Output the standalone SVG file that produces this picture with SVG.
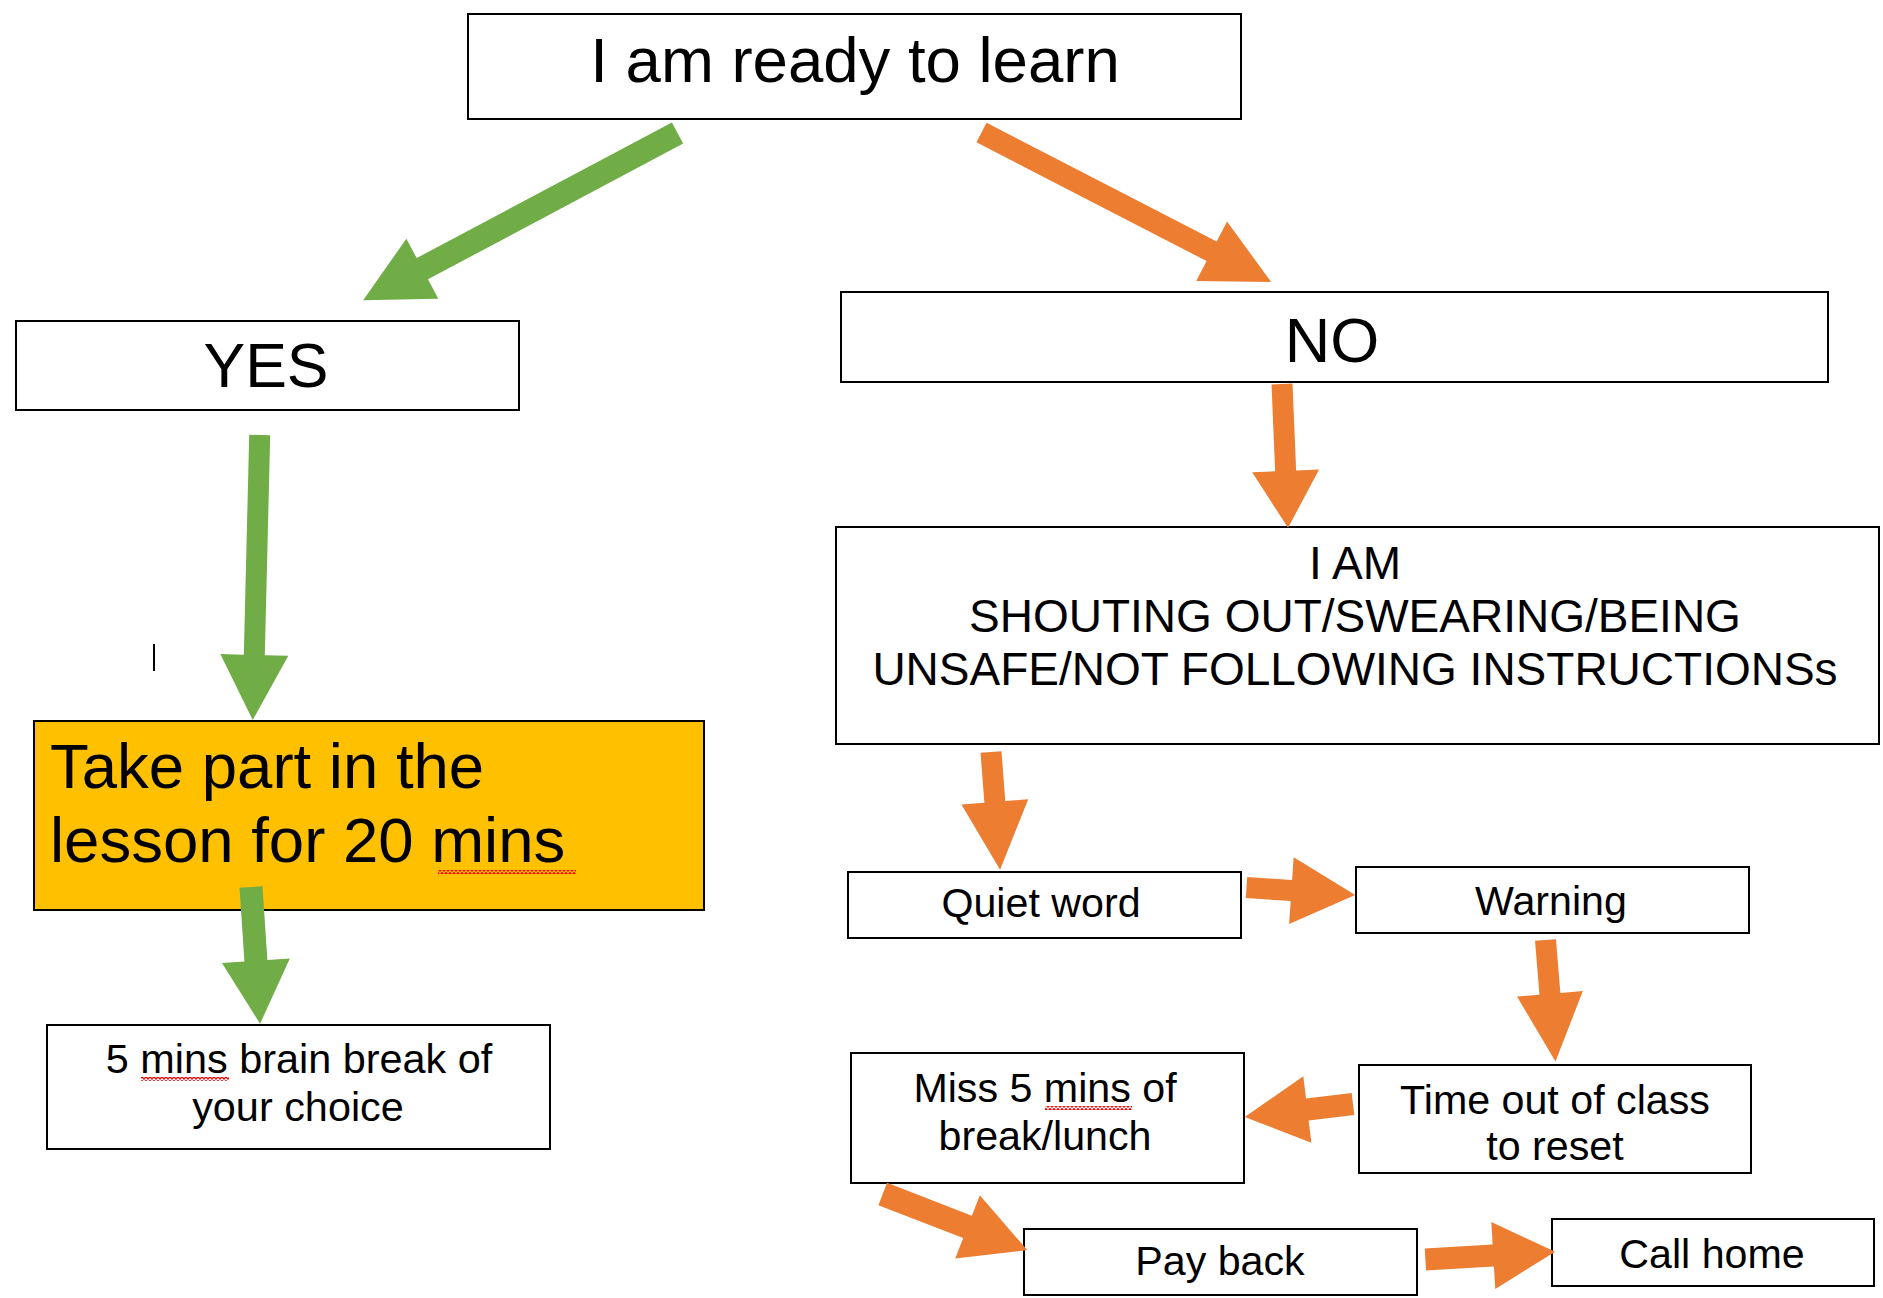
<svg xmlns="http://www.w3.org/2000/svg" width="1883" height="1298" viewBox="0 0 1883 1298">
<style>
.box{fill:#fff;stroke:#000;stroke-width:2}
.gold{fill:#FFC000;stroke:#000;stroke-width:2}
.t{font-family:"Liberation Sans",Arial,sans-serif;fill:#000}
.c{text-anchor:middle}
.g{fill:#70AD47}
.o{fill:#ED7D31}
</style>
<defs>
<pattern id="sq" width="4" height="4" patternUnits="userSpaceOnUse">
<path d="M0,3.5 L2,0.5 L4,3.5" fill="none" stroke="#FF0000" stroke-width="1.3"/>
</pattern>
</defs>
<rect width="1883" height="1298" fill="#fff"/>

<g id="ready">
<rect class="box" x="468" y="14" width="773" height="105"/>
<text class="t c" x="855" y="82" font-size="63.5">I am ready to learn</text>
</g>

<g id="yes">
<rect class="box" x="16" y="321" width="503" height="89"/>
<text class="t c" x="266" y="387" font-size="62.5">YES</text>
</g>

<g id="no">
<rect class="box" x="841" y="292" width="987" height="90"/>
<text class="t c" x="1332" y="362" font-size="63">NO</text>
</g>

<g id="behaviour">
<rect class="box" x="836" y="527" width="1043" height="217"/>
<text class="t c" x="1355" y="579" font-size="46">I AM</text>
<text class="t c" x="1355" y="632" font-size="46">SHOUTING OUT/SWEARING/BEING</text>
<text class="t c" x="1355" y="685" font-size="46">UNSAFE/NOT FOLLOWING INSTRUCTIONSs</text>
</g>

<g id="takepart">
<rect class="gold" x="34" y="721" width="670" height="189"/>
<text class="t" x="50" y="788" font-size="63.5">Take part in the</text>
<text class="t" x="50" y="862" font-size="63.5">lesson for 20 mins</text>
<rect x="438" y="870" width="138" height="4" fill="url(#sq)"/>
</g>

<g id="brainbreak">
<rect class="box" x="47" y="1025" width="503" height="124"/>
<text class="t c" x="299" y="1073" font-size="41.4">5 mins brain break of</text>
<text class="t c" x="298" y="1121" font-size="41.4">your choice</text>
<rect x="141" y="1077" width="88" height="4" fill="url(#sq)"/>
</g>

<g id="quiet">
<rect class="box" x="848" y="872" width="393" height="66"/>
<text class="t c" x="1041" y="917" font-size="41.2">Quiet word</text>
</g>

<g id="warning">
<rect class="box" x="1356" y="867" width="393" height="66"/>
<text class="t c" x="1551" y="915" font-size="41.2">Warning</text>
</g>

<g id="timeout">
<rect class="box" x="1359" y="1065" width="392" height="108"/>
<text class="t c" x="1555" y="1114" font-size="41.2">Time out of class</text>
<text class="t c" x="1555" y="1160" font-size="41.2">to reset</text>
</g>

<g id="miss">
<rect class="box" x="851" y="1053" width="393" height="130"/>
<text class="t c" x="1045" y="1102" font-size="41.2">Miss 5 mins of</text>
<text class="t c" x="1045" y="1150" font-size="41.2">break/lunch</text>
<rect x="1045" y="1106" width="87" height="4" fill="url(#sq)"/>
</g>

<g id="payback">
<rect class="box" x="1024" y="1229" width="393" height="66"/>
<text class="t c" x="1220" y="1275" font-size="41.2">Pay back</text>
</g>

<g id="callhome">
<rect class="box" x="1552" y="1219" width="322" height="67"/>
<text class="t c" x="1712" y="1268" font-size="41.2">Call home</text>
</g>

<rect x="153" y="644" width="2" height="27" fill="#000"/>

<g id="connectors">
<polygon class="g" transform="translate(677.5,133) rotate(152)" points="0,-12 289,-12 289,-34 356,0 289,34 289,12 0,12"/>
<polygon class="o" transform="translate(981.5,132.5) rotate(27.3)" points="0,-11 259,-11 259,-33.5 326,0 259,33.5 259,11 0,11"/>
<polygon class="g" transform="translate(259.7,435) rotate(91.4)" points="0,-10.5 220,-10.5 220,-34 285,0 220,34 220,10.5 0,10.5"/>
<polygon class="g" transform="translate(251,887) rotate(86.2)" points="0,-11.5 74,-11.5 74,-34 137,0 74,34 74,11.5 0,11.5"/>
<polygon class="o" transform="translate(1282,384) rotate(87.6)" points="0,-10.5 87,-10.5 87,-33.5 144,0 87,33.5 87,10.5 0,10.5"/>
<polygon class="o" transform="translate(991,752) rotate(85.6)" points="0,-10.5 50,-10.5 50,-33.5 118,0 50,33.5 50,10.5 0,10.5"/>
<polygon class="o" transform="translate(1246.5,887.5) rotate(3.9)" points="0,-10.5 45,-10.5 45,-33.5 109,0 45,33.5 45,10.5 0,10.5"/>
<polygon class="o" transform="translate(1545.5,940) rotate(85.3)" points="0,-10.5 54,-10.5 54,-33 122,0 54,33 54,10.5 0,10.5"/>
<polygon class="o" transform="translate(1353,1104) rotate(173.1)" points="0,-11 46,-11 46,-33.5 109,0 46,33.5 46,11 0,11"/>
<polygon class="o" transform="translate(882.7,1194) rotate(21.2)" points="0,-12 91,-12 91,-34 155,0 91,34 91,12 0,12"/>
<polygon class="o" transform="translate(1425.4,1259.5) rotate(-3.4)" points="0,-11 68,-11 68,-33.5 130,0 68,33.5 68,11 0,11"/>
</g>
</svg>
